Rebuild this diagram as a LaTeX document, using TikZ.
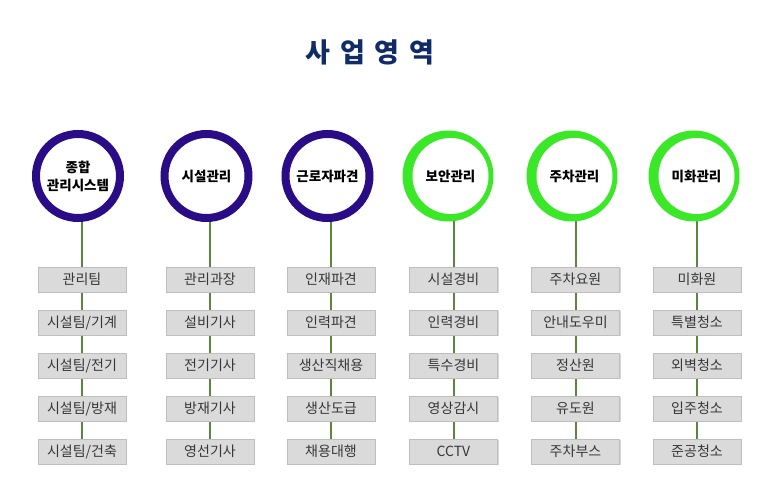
\documentclass[tikz,border=0pt]{standalone}
\usepackage{fontspec}
\setmainfont{Noto Sans CJK KR}
\usetikzlibrary{backgrounds,shadows}
\pgfdeclarelayer{bottom}
\pgfsetlayers{bottom,background,main}
\definecolor{ringpurple}{RGB}{42,12,135}
\definecolor{ringgreen}{RGB}{58,232,40}
\definecolor{titleblue}{RGB}{16,44,104}
\definecolor{boxfill}{RGB}{218,218,218}
\definecolor{boxline}{RGB}{190,190,190}
\definecolor{linkgreen}{RGB}{90,135,60}
\definecolor{boxtext}{RGB}{55,55,55}
\newcommand\mytitlefont{\bfseries\fontsize{27bp}{30bp}\selectfont\spaceskip 10bp\relax}
\newcommand\mycolumn[7]{%
  \node[itembox] (#1-1) at (#2,279.5) {#3};
  \node[itembox] (#1-2) at (#2,322.5) {#4};
  \node[itembox] (#1-3) at (#2,365.5) {#5};
  \node[itembox] (#1-4) at (#2,408.5) {#6};
  \node[itembox] (#1-5) at (#2,451.5) {#7};
  \begin{scope}[on background layer]
    \draw[link] (#1-1.center |- c#1.center) -- (#1-1.center);
    \draw[link] (#1-1.center) -- (#1-2.center);
    \draw[link] (#1-2.center) -- (#1-3.center);
    \draw[link] (#1-3.center) -- (#1-4.center);
    \draw[link] (#1-4.center) -- (#1-5.center);
  \end{scope}}
\begin{document}
\begin{tikzpicture}[x=1bp,y=-1bp,
  itembox/.style={rectangle, fill=boxfill, draw=boxline, line width=0.8bp,
    minimum width=88bp, minimum height=25bp, inner sep=0pt,
    font=\fontsize{14bp}{16bp}\selectfont, text=boxtext,
    drop shadow={shadow xshift=1bp, shadow yshift=-1bp, fill=black, opacity=0.15}},
  purplering/.style={circle, draw=ringpurple, line width=8bp, fill=white,
    minimum size=84bp, inner sep=0pt, align=center,
    font=\bfseries\fontsize{13.5bp}{18bp}\selectfont},
  greenouter/.style={circle, fill=ringgreen, minimum size=91bp, inner sep=0pt},
  greeninner/.style={circle, fill=white, minimum size=76bp, inner sep=0pt,
    font=\bfseries\fontsize{13.5bp}{18bp}\selectfont},
  link/.style={draw=linkgreen, line width=2bp}]
\begin{pgfonlayer}{bottom}
\fill[white] (0,0) rectangle (773,489);
\end{pgfonlayer}
\useasboundingbox (0,0) rectangle (773,489);
\node[text=titleblue, font=\mytitlefont] (title) at (370,52) {사 업 영 역};
\node[purplering] (c1) at (78,176) {종합\\관리시스템};
\node[purplering] (c2) at (206.5,176) {시설관리};
\node[purplering] (c3) at (327.5,176) {근로자파견};
\node[greenouter] (c4) at (448,176) {};
\node[greeninner] (c4in) at (450.5,176) {보안관리};
\node[greenouter] (c5) at (572,176) {};
\node[greeninner] (c5in) at (574.5,176) {주차관리};
\node[greenouter] (c6) at (694,176) {};
\node[greeninner] (c6in) at (696.5,176) {미화관리};
\mycolumn{1}{82}{관리팀}{시설팀/기계}{시설팀/전기}{시설팀/방재}{시설팀/건축}
\mycolumn{2}{210}{관리과장}{설비기사}{전기기사}{방재기사}{영선기사}
\mycolumn{3}{331}{인재파견}{인력파견}{생산직채용}{생산도급}{채용대행}
\mycolumn{4}{453.5}{시설경비}{인력경비}{특수경비}{영상감시}{CCTV}
\mycolumn{5}{575.5}{주차요원}{안내도우미}{정산원}{유도원}{주차부스}
\mycolumn{6}{697}{미화원}{특별청소}{외벽청소}{입주청소}{준공청소}
\end{tikzpicture}
\end{document}
